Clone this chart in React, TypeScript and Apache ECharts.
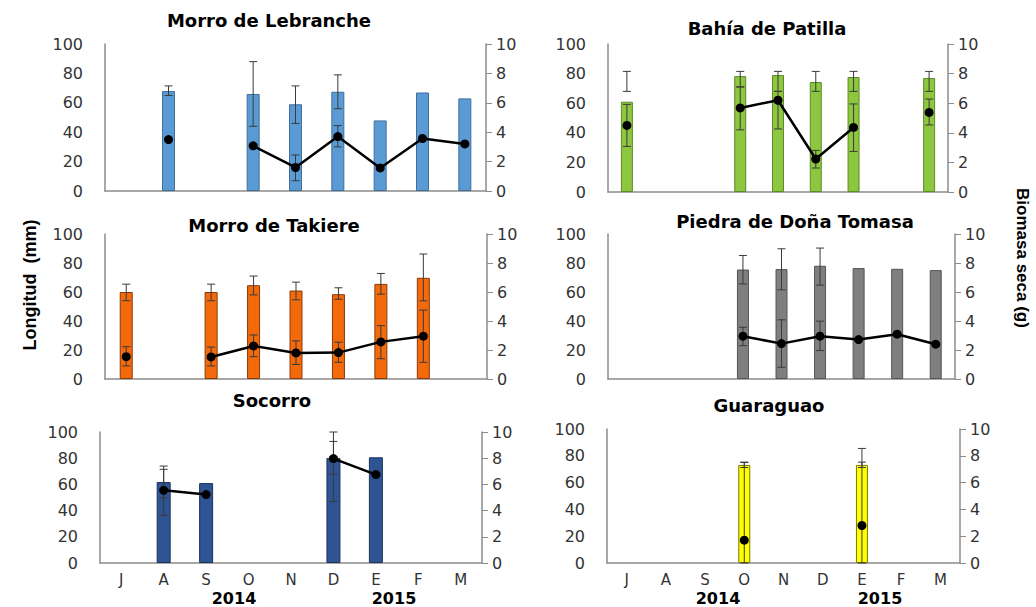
import React, { useEffect, useRef } from 'react';
import * as echarts from 'echarts';

type Err = [number, number] | null;

const months = ['J', 'A', 'S', 'O', 'N', 'D', 'E', 'F', 'M'];
const years = ['2014', '2015'];
const leftAxisName = 'Longitud  (mm)';
const rightAxisName = 'Biomasa seca (g)';

// Morro de Lebranche
const lebBars = [null, 68, null, 66, 59, 67.5, 48, 67, 63];
const lebBarErr: Err[] = [null, [65, 71.5], null, [44, 88], [46, 71.5], [56, 79], null, null, null];
const lebLine = [null, 3.5, null, 3.07, 1.6, 3.7, 1.57, 3.57, 3.2];
const lebLineErr: Err[] = [null, null, null, null, [0.7, 2.45], [3.0, 4.45], null, null, null];

// Bahía de Patilla
const patBars = [61, null, null, 78.3, 79, 74.3, 77.7, null, 77];
const patBarErr: Err[] = [[68, 81.5], null, null, [71, 81.5], [68, 81.5], [68, 81.5], [68, 81.5], null, [68, 81.5]];
const patLine = [4.5, null, null, 5.68, 6.2, 2.23, 4.36, null, 5.38];
const patLineErr: Err[] = [[3.08, 5.92], null, null, [4.2, 7.1], [4.26, 6.8], [1.62, 2.81], [2.74, 5.95], null, [4.53, 6.28]];

// Morro de Takiere
const takBars = [60, null, 60, 64.7, 61, 58.5, 65.6, 69.8, null];
const takBarErr: Err[] = [[54, 65.4], null, [54, 65.4], [58, 71], [54.6, 66.8], [55, 62.9], [58.5, 72.8], [53.9, 86.2], null];
const takLine = [1.54, null, 1.52, 2.28, 1.8, 1.82, 2.56, 2.95, null];
const takLineErr: Err[] = [[0.9, 2.23], null, [0.9, 2.2], [1.54, 3.04], [1.0, 2.63], [1.15, 2.54], [1.4, 3.68], [1.15, 4.75], null];

// Piedra de Doña Tomasa
const tomBars = [null, null, null, 75.5, 75.8, 78.1, 76.5, 76, 75.1];
const tomBarErr: Err[] = [null, null, null, [65.6, 85.2], [61.5, 89.8], [64.7, 90.3], null, null, null];
const tomLine = [null, null, null, 2.95, 2.44, 2.95, 2.72, 3.09, 2.4];
const tomLineErr: Err[] = [null, null, null, [2.3, 3.57], [0.81, 4.08], [1.96, 3.99], null, null, null];

// Socorro
const socBars = [null, 61.8, 61, null, null, 80.2, 80.7, null, null];
const socBarErr: Err[] = [null, [49.6, 74], null, null, null, [67.7, 92.8], null, null, null];
const socLine = [null, 5.55, 5.22, null, null, 7.97, 6.75, null, null];
const socLineErr: Err[] = [null, [3.64, 7.15], null, null, null, [4.7, 10], null, null, null];

// Guaraguao
const guaBars = [null, null, null, 73.2, null, null, 73.2, null, null];
const guaBarErr: Err[] = [null, null, null, [71.3, 75.3], null, null, [71.3, 75.3], null, null];
const guaLine = [null, null, null, 1.7, null, null, 2.8, null, null];
const guaLineErr: Err[] = [null, null, null, [0, 7.5], null, null, [0, 8.55], null, null];

const panels = [
  { title: 'Morro de Lebranche', tx: 269, ty: 20, grid: { left: 105, top: 44, width: 381, height: 147 }, color: '#5B9BD5', border: '#3F6E9A', barWidth: 13, bars: lebBars, barErr: lebBarErr, line: lebLine, lineErr: lebLineErr, showX: false },
  { title: 'Bahía de Patilla', tx: 767, ty: 28, grid: { left: 608, top: 44, width: 340, height: 148 }, color: '#8DC63F', border: '#5E8A2A', barWidth: 12, bars: patBars, barErr: patBarErr, line: patLine, lineErr: patLineErr, showX: false },
  { title: 'Morro de Takiere', tx: 274, ty: 225, grid: { left: 105, top: 234, width: 382, height: 145 }, color: '#F26A0C', border: '#8A3A08', barWidth: 13, bars: takBars, barErr: takBarErr, line: takLine, lineErr: takLineErr, showX: false },
  { title: 'Piedra de Doña Tomasa', tx: 795, ty: 221, grid: { left: 608, top: 234, width: 347, height: 145 }, color: '#7F7F7F', border: '#555555', barWidth: 12, bars: tomBars, barErr: tomBarErr, line: tomLine, lineErr: tomLineErr, showX: false },
  { title: 'Socorro', tx: 272, ty: 400, grid: { left: 100, top: 432, width: 382, height: 131 }, color: '#2E5494', border: '#1C335C', barWidth: 14, bars: socBars, barErr: socBarErr, line: socLine, lineErr: socLineErr, showX: true },
  { title: 'Guaraguao', tx: 769, ty: 405, grid: { left: 607, top: 429, width: 353, height: 134 }, color: '#FFFF00', border: '#7A7A00', barWidth: 12, bars: guaBars, barErr: guaBarErr, line: guaLine, lineErr: guaLineErr, showX: true },
];

const yearPos = [
  { x: 234, y: 598 }, { x: 394, y: 598 },
  { x: 718, y: 598 }, { x: 880, y: 598 },
];

const FONT = 'DejaVu Sans, Verdana, sans-serif';
const AXIS_GRAY = '#8C8C8C';

function errRender(params: any, api: any) {
  const x = api.value(0);
  const lo = api.coord([x, api.value(1)]);
  const hi = api.coord([x, api.value(2)]);
  const w = 4;
  const style = { stroke: '#3A3A3A', lineWidth: 1 };
  return {
    type: 'group',
    children: [
      { type: 'line', shape: { x1: lo[0], y1: lo[1], x2: hi[0], y2: hi[1] }, style },
      { type: 'line', shape: { x1: hi[0] - w, y1: hi[1], x2: hi[0] + w, y2: hi[1] }, style },
      { type: 'line', shape: { x1: lo[0] - w, y1: lo[1], x2: lo[0] + w, y2: lo[1] }, style },
    ],
  };
}

function errData(errs: Err[]) {
  const out: number[][] = [];
  errs.forEach((e, i) => { if (e) out.push([i, e[0], e[1]]); });
  return out;
}

export default function App() {
  const ref = useRef<HTMLDivElement>(null);
  useEffect(() => {
    if (!ref.current) return;
    const chart = echarts.init(ref.current, undefined, { renderer: 'svg' });
    const grids: any[] = [];
    const xAxes: any[] = [];
    const yAxes: any[] = [];
    const series: any[] = [];
    const graphics: any[] = [];

    panels.forEach((p, i) => {
      grids.push({ ...p.grid, containLabel: false, outerBoundsMode: 'none' });
      xAxes.push({
        type: 'category', gridIndex: i, data: months, boundaryGap: true,
        axisLine: { show: true, lineStyle: { color: AXIS_GRAY, width: 1.5 } },
        axisTick: { show: false },
        axisLabel: { show: p.showX, fontSize: 15, color: '#333', fontFamily: FONT, margin: 9 },
        splitLine: { show: false },
      });
      yAxes.push({
        type: 'value', gridIndex: i, position: 'left', min: 0, max: 100, interval: 20,
        axisLine: { show: true, lineStyle: { color: AXIS_GRAY, width: 1.5 } },
        axisTick: { show: false },
        axisLabel: { fontSize: 16, color: '#333', fontFamily: FONT, margin: 22 },
        splitLine: { show: false },
      });
      yAxes.push({
        type: 'value', gridIndex: i, position: 'right', min: 0, max: 10, interval: 2,
        axisLine: { show: true, lineStyle: { color: AXIS_GRAY, width: 1.5 } },
        axisTick: { show: true, length: 6, lineStyle: { color: AXIS_GRAY } },
        axisLabel: { fontSize: 16, color: '#333', fontFamily: FONT, margin: 10 },
        splitLine: { show: false },
      });
      series.push({
        type: 'bar', xAxisIndex: i, yAxisIndex: 2 * i, data: p.bars, barWidth: p.barWidth,
        itemStyle: { color: p.color, borderColor: p.border, borderWidth: 1 }, z: 2,
      });
      series.push({
        type: 'custom', xAxisIndex: i, yAxisIndex: 2 * i, data: errData(p.barErr),
        renderItem: errRender, encode: { x: 0, y: [1, 2] }, z: 3, silent: true,
      });
      series.push({
        type: 'custom', xAxisIndex: i, yAxisIndex: 2 * i + 1, data: errData(p.lineErr),
        renderItem: errRender, encode: { x: 0, y: [1, 2] }, z: 4, silent: true,
      });
      series.push({
        type: 'line', xAxisIndex: i, yAxisIndex: 2 * i + 1, data: p.line,
        connectNulls: false, showAllSymbol: true, symbol: 'circle', symbolSize: 9,
        lineStyle: { color: '#000', width: 2.5 }, itemStyle: { color: '#000' }, z: 5,
      });
      graphics.push({
        type: 'text', x: p.tx, y: p.ty,
        style: { text: p.title, font: `bold 18px ${FONT}`, fill: '#000', textAlign: 'center', textVerticalAlign: 'middle', verticalAlign: 'middle' },
      });
    });

    graphics.push({
      type: 'text', x: 30, y: 285, rotation: Math.PI / 2,
      style: { text: leftAxisName, font: `bold 18px Liberation Sans, Arial, sans-serif`, fill: '#000', textAlign: 'center', textVerticalAlign: 'middle', verticalAlign: 'middle' },
    });
    graphics.push({
      type: 'text', x: 1022, y: 258, rotation: -Math.PI / 2,
      style: { text: rightAxisName, font: `bold 17px Liberation Sans, Arial, sans-serif`, fill: '#000', textAlign: 'center', textVerticalAlign: 'middle', verticalAlign: 'middle' },
    });
    yearPos.forEach((pos, k) => {
      graphics.push({
        type: 'text', x: pos.x, y: pos.y,
        style: { text: years[k % 2], font: `bold 16px ${FONT}`, fill: '#000', textAlign: 'center', textVerticalAlign: 'middle', verticalAlign: 'middle' },
      });
    });

    chart.setOption({
      animation: false,
      backgroundColor: '#fff',
      grid: grids,
      xAxis: xAxes,
      yAxis: yAxes,
      series,
      graphic: graphics,
    });
    return () => chart.dispose();
  }, []);
  return <div ref={ref} style={{ position: 'fixed', left: 0, top: 0, width: 1036, height: 607 }} />;
}
